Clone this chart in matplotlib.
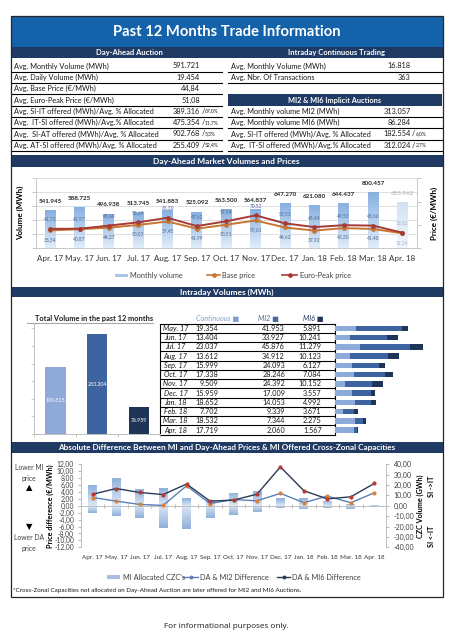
import numpy as np
import matplotlib
matplotlib.use('Agg')
import matplotlib.pyplot as plt
from matplotlib.colors import LinearSegmentedColormap
from matplotlib.patches import Rectangle
import matplotlib.transforms as mtransforms

plt.rcParams['font.family'] = ['Lato', 'DejaVu Sans']

# ---------------- data ----------------
title = "Past 12 Months Trade Information"

da_rows_labels = ["Avg. Monthly Volume (MWh)", "Avg. Daily Volume (MWh)", "Avg. Base Price (\u20ac/MWh)",
                  "Avg. Euro-Peak Price (\u20ac/MWh)", "Avg. SI-IT offered (MWh)/Avg. % Allocated",
                  "Avg.  IT-SI offered (MWh)/Avg.% Allocated", "Avg.  SI-AT offered (MWh)/Avg. % Allocated",
                  "Avg. AT-SI offered (MWh)/Avg. % Allocated"]
da_rows_values = ["591.721", "19.454", "44,84", "51,08", "389.316", "475.354", "902.768", "255.409"]
da_rows_pct = ["", "", "", "", "67,0%", "11,7%", "5,3%", "52,4%"]

id_rows_labels = ["Avg. Monthly Volume (MWh)", "Avg. Nbr. Of Transactions"]
id_rows_values = ["16.818", "363"]
mi_rows_labels = ["Avg. Monthly volume MI2 (MWh)", "Avg. Monthly volume MI6 (MWh)",
                  "Avg. SI-IT offered (MWh)/Avg. % Allocated", "Avg.  IT-SI offered (MWh)/Avg.% Allocated"]
mi_rows_values = ["313.057", "86.284", "182.554", "312.024"]
mi_rows_pct = ["", "", "6,0%", "2,7%"]

months = ["Apr. 17", "May. 17", "Jun. 17", "Jul. 17", "Aug. 17", "Sep. 17", "Oct. 17",
          "Nov. 17", "Dec. 17", "Jan. 18", "Feb. 18", "Mar. 18", "Apr. 18"]
da_volume = [541945, 588725, 496938, 513745, 541883, 525092, 563500, 564837, 647270, 621080, 644437, 800457, 655962]
base_price = [38.34, 40.87, 44.27, 50.00, 57.45, 41.99, 50.51, 59.61, 44.62, 37.92, 43.30, 41.40, 32.24]
peak_price = [41.72, 41.97, 48.60, 55.69, 65.30, 47.62, 57.94, 70.52, 53.51, 45.44, 49.53, 48.66, 33.52]

id_months = ["May. 17", "Jun. 17", "Jul. 17", "Aug. 17", "Sep. 17", "Oct. 17", "Nov. 17",
             "Dec. 17", "Jan. 18", "Feb. 18", "Mar. 18", "Apr. 18"]
continuous = [19354, 13404, 23037, 13612, 15999, 17338, 9509, 15959, 18652, 7702, 18532, 17719]
mi2 = [41953, 33927, 45876, 34912, 24093, 28246, 24392, 17009, 14053, 9339, 7344, 2060]
mi6 = [5891, 10241, 11279, 10123, 6127, 7084, 10152, 3557, 4992, 3671, 2275, 1567]
total_names = ["Continuous", "MI2", "MI6"]
totals = [190815, 283204, 76959]

czc_pos = [19.9, 27.2, 16.0, 16.7, 7.1, 5.4, 12.8, 14.1, 7.7, 7.1, 5.1, 1.9, 0.3]
czc_neg = [-6.7, -9.6, -11.9, -21.8, -22.4, -11.9, -8.7, -5.8, -1.9, -3.5, -1.9, -2.9, -0.3]
mi2_diff = [2.4, 1.35, 0.4, 0.1, 5.8, 0.65, 1.8, 1.45, 3.6, 0.9, 2.8, 0.9, 3.75]
mi6_diff = [3.35, 5.0, 3.85, 3.25, 6.3, 1.35, 1.65, 3.35, 11.25, 4.35, 2.0, 2.6, 6.45]

# ---------------- helpers ----------------
W, H = 453, 640
NAVY = '#1f3a63'
BLUE_T = '#1462aa'
TXT = '#1a1a1a'
C_LIGHT, C_MID, C_DARK = '#8eaad8', '#3d63a0', '#1f3557'
FS_ROW = 5.35

fig = plt.figure(figsize=(W / 100, H / 100), dpi=100)
bg = fig.add_axes([0, 0, 1, 1])
bg.set_xlim(0, W)
bg.set_ylim(H, 0)
bg.axis('off')


def pax(x0, y0, x1, y1):
    a = fig.add_axes([x0 / W, 1 - y1 / H, (x1 - x0) / W, (y1 - y0) / H])
    a.patch.set_alpha(0)
    return a


def thou(v):
    return f"{v:,}".replace(',', '.')


def dec(v):
    return f"{v:.2f}".replace('.', ',')


def grad_bars(ax, bars, top_color, bottom_color):
    cmap = LinearSegmentedColormap.from_list('g', [bottom_color, top_color])
    grad = np.linspace(0, 1, 64).reshape(-1, 1)
    for b in bars:
        x0, y0 = b.get_x(), b.get_y()
        w, h = b.get_width(), b.get_height()
        im = ax.imshow(grad, extent=[x0, x0 + w, y0, y0 + h], origin='lower',
                       aspect='auto', cmap=cmap, zorder=b.get_zorder(), interpolation='bilinear')
        im.set_clip_path(b)
        b.set_facecolor('none')


def band(y0, h, text, fs=6.0):
    bg.add_patch(Rectangle((10.7, y0), 432, h, fc=NAVY, ec='none'))
    bg.text(226.7, y0 + h / 2 + 0.3, text, color='white', fontsize=fs, fontweight='bold',
            ha='center', va='center')


# ---------------- header & tables ----------------
bg.add_patch(Rectangle((10.7, 16), 432, 30.5, fc=BLUE_T, ec='none'))
bg.text(226.7, 31.5, title, color='white', fontsize=10.6, fontweight='bold', ha='center', va='center')
bg.add_patch(Rectangle((10.7, 46.5), 432, 11.2, fc=NAVY, ec='none'))
bg.text(129, 52.3, "Day-Ahead Auction", color='white', fontsize=5.5, fontweight='bold', ha='center', va='center')
bg.text(336, 52.3, "Intraday Continuous Trading", color='white', fontsize=5.5, fontweight='bold', ha='center', va='center')

row_y = [66 + i * 11.33 for i in range(8)]
for i, (lab, val, pct) in enumerate(zip(da_rows_labels, da_rows_values, da_rows_pct)):
    y = row_y[i]
    bg.text(14, y, lab, fontsize=FS_ROW, color=TXT, ha='left', va='center')
    bg.text(200, y, val, fontsize=FS_ROW, color=TXT, ha='right', va='center')
    if pct:
        bg.text(201.5, y, "/", fontsize=FS_ROW, color=TXT, ha='left', va='center')
        bg.text(205, y - 0.3, pct, fontsize=3.6, color=TXT, ha='left', va='center')
    bg.plot([11.5, 222], [y + 5.6, y + 5.6], color='black', lw=0.8)

for i, (lab, val) in enumerate(zip(id_rows_labels, id_rows_values)):
    y = row_y[i]
    bg.text(231.3, y, lab, fontsize=FS_ROW, color=TXT, ha='left', va='center')
    bg.text(410.7, y, val, fontsize=FS_ROW, color=TXT, ha='right', va='center')
    bg.plot([228, 441.5], [y + 5.6, y + 5.6], color='black', lw=0.8)

bg.add_patch(Rectangle((228, row_y[3] - 5.6), 213.5, 11.3, fc=NAVY, ec='none'))
bg.text(335, row_y[3] + 0.2, "MI2 & MI6 Implicit Auctions", color='white', fontsize=5.3,
        fontweight='bold', ha='center', va='center')
for j, (lab, val, pct) in enumerate(zip(mi_rows_labels, mi_rows_values, mi_rows_pct)):
    y = row_y[4 + j]
    bg.text(231.3, y, lab, fontsize=FS_ROW, color=TXT, ha='left', va='center')
    bg.text(410.7, y, val, fontsize=FS_ROW, color=TXT, ha='right', va='center')
    if pct:
        bg.text(412, y, "/", fontsize=FS_ROW, color=TXT, ha='left', va='center')
        bg.text(415.5, y - 0.3, pct, fontsize=3.6, color=TXT, ha='left', va='center')
    bg.plot([228, 441.5], [y + 5.6, y + 5.6], color='black', lw=0.8)

# ---------------- Day-ahead chart ----------------
band(155, 12, "Day-Ahead Market Volumes and Prices")
ax = pax(35.5, 178.3, 417, 248.3)
x = np.arange(len(months))
bars = ax.bar(x, da_volume, width=0.37, zorder=2, ec='none')
grad_bars(ax, bars[:-1], '#86afe0', '#e2edf9')
grad_bars(ax, bars[-1:], '#d3e2f3', '#f1f6fc')
ax.set_ylim(0, 1000000)
ax.set_xlim(-0.5, len(months) - 0.5)
ax.set_yticks(np.arange(0, 1000001, 200000))
ax.set_yticklabels([])
ax.grid(axis='y', color='#d9d9d9', lw=0.6, zorder=0)
ax.set_axisbelow(True)
ax.tick_params(axis='y', length=3, color='#bfbfbf', width=0.6)
ax.set_xticks(x)
ax.set_xticklabels(months, fontsize=5.8, color='#333333')
ax.tick_params(axis='x', length=0, pad=5)
for s in ['top', 'right']:
    ax.spines[s].set_visible(False)
for s in ['left', 'bottom']:
    ax.spines[s].set_color('#bfbfbf')
    ax.spines[s].set_linewidth(0.6)
for i, v in enumerate(da_volume):
    last = i == len(da_volume) - 1
    ax.annotate(thou(v), (i, v), xytext=(0, 4.5), textcoords='offset points', ha='center', va='bottom',
                fontsize=4.5, fontweight='normal' if last else 'bold',
                color='#a6a6a6' if last else '#262626')
ax.set_ylabel("Volume (MWh)", fontsize=5.8, fontweight='bold')
ax.yaxis.set_label_coords(-0.030, 0.5)

ax2 = ax.twinx()
ax2.set_ylim(0, 150)
ax2.set_yticks([0, 50, 100, 150])
ax2.set_yticklabels([])
ax2.tick_params(axis='y', length=3, color='#bfbfbf', width=0.6)
for s in ['top', 'left', 'bottom']:
    ax2.spines[s].set_visible(False)
ax2.spines['right'].set_color('#bfbfbf')
ax2.spines['right'].set_linewidth(0.6)
c_base, c_peak = '#c8762f', '#a53a36'
ax2.plot(x, base_price, color=c_base, lw=1.4, marker='o', ms=2.4, zorder=3)
ax2.plot(x, peak_price, color=c_peak, lw=1.4, marker='o', ms=2.4, zorder=3)
for i in range(len(months)):
    lc = '#9fb3cf' if i == len(months) - 1 else '#4e6a94'
    ax2.annotate(dec(peak_price[i]), (i, peak_price[i]), xytext=(0, 7), textcoords='offset points',
                 ha='center', va='center', fontsize=3.5, color=lc)
    ax2.annotate(dec(base_price[i]), (i, base_price[i]), xytext=(0, -6.5), textcoords='offset points',
                 ha='center', va='center', fontsize=3.5, color=lc)
ax2.set_ylabel("Price (\u20ac/MWh)", fontsize=5.8, fontweight='bold')
ax2.yaxis.set_label_coords(1.035, 0.5)

# legend
ly = 275.3
bg.add_patch(Rectangle((115, ly - 1.6), 13.3, 3.2, fc='#a9c6e8', ec='none'))
bg.text(130, ly, "Monthly volume", fontsize=5.3, color='#404040', va='center')
bg.plot([207, 220], [ly, ly], color=c_base, lw=1.2)
bg.plot([213.5], [ly], marker='o', ms=2.4, color=c_base)
bg.text(222.5, ly, "Base price", fontsize=5.3, color='#404040', va='center')
bg.plot([282, 297], [ly, ly], color=c_peak, lw=1.2)
bg.plot([289.5], [ly], marker='o', ms=2.4, color=c_peak)
bg.text(299.5, ly, "Euro-Peak price", fontsize=5.3, color='#404040', va='center')

# ---------------- Intraday ----------------
band(286.7, 10.6, "Intraday Volumes (MWh)")
bg.text(94, 318.3, "Total Volume in the past 12 months", fontsize=5.3, fontweight='bold', color=TXT,
        ha='center', va='center')
bg.plot([27, 153], [322.7, 322.7], color='#a6a6a6', lw=0.8)

axt = pax(34.3, 322.7, 160, 434)
tb = axt.bar(np.arange(3), totals, width=0.49, color=[C_LIGHT, C_MID, C_DARK], zorder=2)
axt.set_ylim(0, 316000)
axt.set_xlim(-0.5, 2.5)
axt.set_yticks(np.arange(0, 316000, 50000))
axt.set_yticklabels([])
axt.set_xticks([-0.5, 0.5, 1.5, 2.5])
axt.set_xticklabels([])
axt.tick_params(length=2.5, color='#bfbfbf', width=0.6)
for s in ['top', 'right']:
    axt.spines[s].set_visible(False)
for s in ['left', 'bottom']:
    axt.spines[s].set_color('#bfbfbf')
    axt.spines[s].set_linewidth(0.7)
for i, v in enumerate(totals):
    axt.text(i, v / 2, thou(v), ha='center', va='center', fontsize=3.8, color='white')

# table
hy = 319
bg.text(218, hy, "Continuous \u25a0", fontsize=5.2, style='italic', color='#7f9fd0', ha='center', va='center')
bg.text(269, hy, "MI2 \u25a0", fontsize=5.2, style='italic', color='#4a6a9c', ha='center', va='center')
bg.text(313, hy, "MI6 \u25a0", fontsize=5.2, style='italic', color='#24375a', ha='center', va='center')
ty = [328.3 + i * 9.25 for i in range(len(id_months))]
for i, m in enumerate(id_months):
    y = ty[i]
    bg.text(175.5, y, m, fontsize=5.2, style='italic', color=TXT, ha='center', va='center')
    bg.text(218.3, y, thou(continuous[i]), fontsize=5.2, color=TXT, ha='right', va='center')
    bg.text(285, y, thou(mi2[i]), fontsize=5.2, color=TXT, ha='right', va='center')
    bg.text(321.7, y, thou(mi6[i]), fontsize=5.2, color=TXT, ha='right', va='center')
for k in range(len(id_months) + 1):
    yy = ty[0] - 4.6 + k * 9.25
    bg.plot([160, 335], [yy, yy], color='black', lw=0.8)
bg.plot([160, 160], [ty[0] - 4.6, ty[-1] + 4.65], color='black', lw=0.8)
bg.plot([335, 335], [ty[0] - 4.6, ty[-1] + 4.65], color='black', lw=0.8)

axs = pax(335, ty[0] - 4.6, 442, ty[-1] + 4.65)
yy = np.arange(len(id_months))
c = np.array(continuous)
m2 = np.array(mi2)
axs.barh(yy, c, height=0.6, color=C_LIGHT)
axs.barh(yy, m2, left=c, height=0.6, color=C_MID)
axs.barh(yy, mi6, left=c + m2, height=0.6, color=C_DARK)
axs.set_xlim(0, 98000)
axs.set_ylim(len(id_months) - 0.5, -0.5)
axs.axis('off')

# ---------------- Absolute difference ----------------
band(441.7, 11.6, "Absolute Difference Between MI and Day-Ahead Prices & MI Offered Cross-Zonal Capacities", fs=5.9)
axb = pax(81, 464.3, 386, 547.3)
axc = axb.twinx()
xb = np.arange(len(months))
bp = axc.bar(xb, czc_pos, width=0.38, zorder=2, ec='none')
bn = axc.bar(xb, czc_neg, width=0.38, zorder=2, ec='none')
grad_bars(axc, bp, '#8fb0dc', '#dde8f5')
grad_bars(axc, bn, '#8fb0dc', '#dde8f5')
axc.set_ylim(-40, 40)
axc.set_xlim(-0.5, len(months) - 0.5)
axc.set_yticks(np.arange(-40, 41, 10))
axc.set_yticklabels([dec(v) for v in np.arange(-40, 41, 10)], fontsize=5.0, color='#404040')
axc.tick_params(axis='y', length=2.5, color='#bfbfbf', pad=3)
for s in ['top', 'left', 'bottom']:
    axc.spines[s].set_visible(False)
axc.spines['right'].set_color('#bfbfbf')
axc.spines['right'].set_linewidth(0.7)

axb.set_zorder(axc.get_zorder() + 1)
axb.patch.set_visible(False)
c_mi2, c_mi6 = '#5a80b6', '#2b3a58'
axb.plot(xb, mi2_diff, color=c_mi2, lw=1.0, marker='o', ms=2.0, mfc='#d9823b', mec='#d9823b', zorder=4)
axb.plot(xb, mi6_diff, color=c_mi6, lw=1.0, marker='o', ms=2.0, mfc='#b83a32', mec='#b83a32', zorder=4)
axb.set_ylim(-12, 12)
axb.set_xlim(-0.5, len(months) - 0.5)
axb.set_yticks(np.arange(-12, 13, 2))
axb.set_yticklabels([dec(v) for v in np.arange(-12, 13, 2)], fontsize=4.9, color='#404040')
axb.tick_params(axis='y', length=2.5, color='#bfbfbf', pad=2.5)
axb.spines['bottom'].set_position(('data', 0))
axb.spines['bottom'].set_color('#bfbfbf')
axb.spines['bottom'].set_linewidth(0.7)
axb.spines['left'].set_color('#bfbfbf')
axb.spines['left'].set_linewidth(0.7)
for s in ['top', 'right']:
    axb.spines[s].set_visible(False)
axb.set_xticks(np.arange(-0.5, len(months), 1))
axb.set_xticklabels([])
axb.tick_params(axis='x', direction='inout', length=3, color='#bfbfbf')
trans = mtransforms.blended_transform_factory(axb.transData, axb.transAxes)
for i, m in enumerate(months):
    axb.text(i, -0.125, m, transform=trans, ha='center', va='center', fontsize=4.5, color='#333333')
axb.set_ylabel("Price difference (\u20ac/MWh)", fontsize=5.2, fontweight='bold')
axb.yaxis.set_label_coords(-0.088, 0.5)
axc.set_ylabel("CZC Volume (GWh)", fontsize=5.2, fontweight='bold')
axc.yaxis.set_label_coords(1.100, 0.5)

bg.text(29, 472.8, "Lower MI\nprice", fontsize=4.9, color='#404040', ha='center', va='center',
        linespacing=1.6, zorder=10)
bg.text(29, 488, "\u25b2", fontsize=6, color='black', ha='center', va='center', family='DejaVu Sans')
bg.text(29, 527, "\u25bc", fontsize=6, color='black', ha='center', va='center', family='DejaVu Sans')
bg.text(29, 543.2, "Lower DA\nprice", fontsize=4.9, color='#404040', ha='center', va='center',
        linespacing=1.6, zorder=10)
bg.text(431, 486.7, "SI ->IT", fontsize=5.2, fontweight='bold', rotation=90, ha='center', va='center')
bg.text(431, 536.7, "SI <-IT", fontsize=5.2, fontweight='bold', rotation=90, ha='center', va='center')

ly2 = 577
bg.add_patch(Rectangle((107, ly2 - 1.6), 13.3, 3.2, fc='#a8c0e0', ec='none'))
bg.text(123, ly2, "MI Allocated CZC's", fontsize=5.3, color='#404040', va='center')
bg.plot([183, 198], [ly2, ly2], color=c_mi2, lw=1.0)
bg.plot([190.5], [ly2], marker='o', ms=1.8, color=c_mi2)
bg.text(200, ly2, "DA & MI2 Difference", fontsize=5.3, color='#404040', va='center')
bg.plot([277, 290], [ly2, ly2], color=c_mi6, lw=1.0)
bg.plot([283.5], [ly2], marker='o', ms=1.8, color=c_mi6)
bg.text(292, ly2, "DA & MI6 Difference", fontsize=5.3, color='#404040', va='center')

bg.text(13, 590.7, "*Cross-Zonal Capacities not allocated on Day-Ahead Auction are later offered for MI2 and MI6 Auctions.",
        fontsize=4.5, color=TXT, ha='left', va='center')

# border
bg.add_patch(Rectangle((10.7, 16), 432, 581, fill=False, lw=0.9, ec='#262626', zorder=5))

bg.text(226.7, 626.7, "For informational purposes only.", fontsize=5.9, color=TXT, ha='center', va='center',
        family=['Open Sans', 'DejaVu Sans'])

fig.savefig('out.png', dpi=100)
